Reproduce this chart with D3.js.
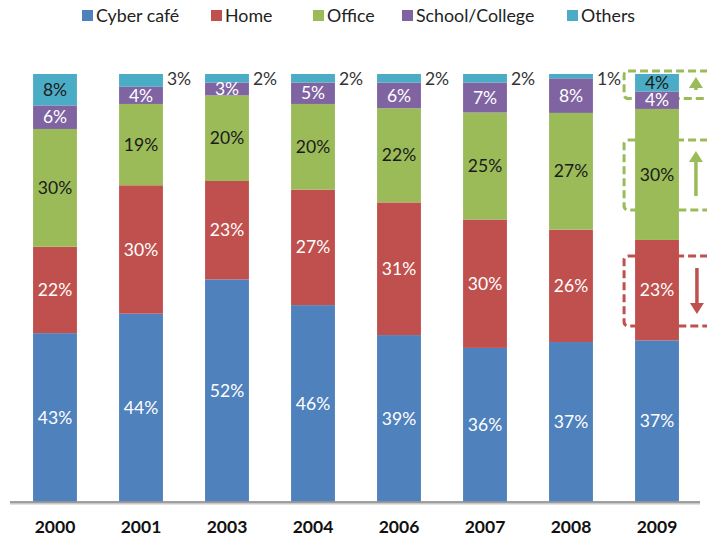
<!DOCTYPE html>
<html><head><meta charset="utf-8">
<script src="https://cdn.jsdelivr.net/npm/d3@7"></script>
<style>body{margin:0;background:#fff}svg{display:block}</style>
</head><body>
<svg id="c" width="707" height="548"></svg>
<script>
const years = ["2000","2001","2003","2004","2006","2007","2008","2009"];
const seriesNames = ["Cyber café","Home","Office","School/College","Others"];
const cyberCafe = [43,44,52,46,39,36,37,37];
const home = [22,30,23,27,31,30,26,23];
const office = [30,19,20,20,22,25,27,30];
const schoolCollege = [6,4,3,5,6,7,8,4];
const others = [8,3,2,2,2,2,1,4];
const colors = ["#4F81BD","#C0504D","#9BBB59","#8064A2","#4BACC6"];
const labelColors = ["#fff","#fff","#1a1a1a","#fff","#1a1a1a"];

const seriesVals = [cyberCafe, home, office, schoolCollege, others];
const rows = years.map((y,i)=>{const r={year:y}; seriesNames.forEach((s,k)=>r[s]=seriesVals[k][i]); return r;});
const stack = d3.stack().keys(seriesNames).offset(d3.stackOffsetExpand);
const layers = stack(rows);

const svg = d3.select("#c");
const font = "Lato, 'Open Sans', sans-serif";
const x = d3.scaleBand().domain(years).range([12,700]).paddingInner(0.49).paddingOuter(0.245);
const y = d3.scaleLinear().domain([0,1]).range([502,74]);

// annotation boxes for 2009 (behind bars)
const last = years[years.length-1];
const lx = x(last), bw = x.bandwidth();
const L = layers.map(l=>l[years.length-1]);
const ann = svg.append("g");
function box(y0,y1,col){
  ann.append("rect").attr("x",lx-11).attr("y",y0).attr("width",90).attr("height",y1-y0)
    .attr("rx",4).attr("fill","none").attr("stroke",col).attr("stroke-width",3).attr("stroke-dasharray","8,4");
}
function arrow(xa,ya,yb,col,up){
  const d = up?1:-1;
  ann.append("line").attr("x1",xa).attr("x2",xa).attr("y1",ya).attr("y2",yb+d*8).attr("stroke",col).attr("stroke-width",3.5);
  ann.append("path").attr("d",`M${xa-7},${yb+d*11}L${xa},${yb}L${xa+7},${yb+d*11}Z`).attr("fill",col);
}
const green="#9BBB59", red="#C0504D";
box(y(1)-3, y(L[4][0])+7, green);
arrow(lx+bw+17, 90, 77, green, true);
box(140, 210, green);
arrow(lx+bw+17, 196, 151, green, true);
box(256, 326, red);
arrow(lx+bw+18, 268, 314, red, false);

// bars
const g = svg.append("g");
layers.forEach((layer,k)=>{
  g.selectAll(null).data(layer).join("rect")
    .attr("x",d=>x(d.data.year)).attr("width",bw)
    .attr("y",d=>y(d[1])).attr("height",d=>y(d[0])-y(d[1]))
    .attr("fill",colors[k]);
});

// axis line
svg.append("line").attr("x1",10).attr("x2",700).attr("y1",503).attr("y2",503).attr("stroke","#c8c8c8").attr("stroke-width",3);
svg.append("line").attr("x1",10).attr("x2",700).attr("y1",502).attr("y2",502).attr("stroke","#8c8c8c").attr("stroke-width",1.5);

// labels
layers.forEach((layer,k)=>{
  layer.forEach((d,i)=>{
    const v = seriesVals[k][i];
    let tx, ty, col, anchor="middle";
    if (k === 4 && v <= 3) { tx = x(d.data.year)+bw+4; ty = y(d[1])+5; col="#333"; anchor="start"; }
    else { tx = x(d.data.year)+bw/2; ty = (y(d[0])+y(d[1]))/2; col = labelColors[k]; }
    svg.append("text").attr("x",tx).attr("y",ty).attr("dy","0.35em").attr("text-anchor",anchor)
      .attr("font-family",font).attr("font-size",17.5).attr("fill",col).text(v+"%");
  });
});

// x axis labels
svg.selectAll(null).data(years).join("text")
  .attr("x",d=>x(d)+bw/2).attr("y",533).attr("text-anchor","middle")
  .attr("font-family",font).attr("font-weight","bold").attr("font-size",17.5).attr("fill","#111").text(d=>d);

// legend
const legX = [82,211,313,402,567];
seriesNames.forEach((s,k)=>{
  svg.append("rect").attr("x",legX[k]).attr("y",10).attr("width",11).attr("height",11).attr("fill",colors[k]);
  svg.append("text").attr("x",legX[k]+14).attr("y",16).attr("dy","0.35em")
    .attr("font-family",font).attr("font-size",17.8).attr("fill","#222").text(s);
});
</script>
</body></html>
